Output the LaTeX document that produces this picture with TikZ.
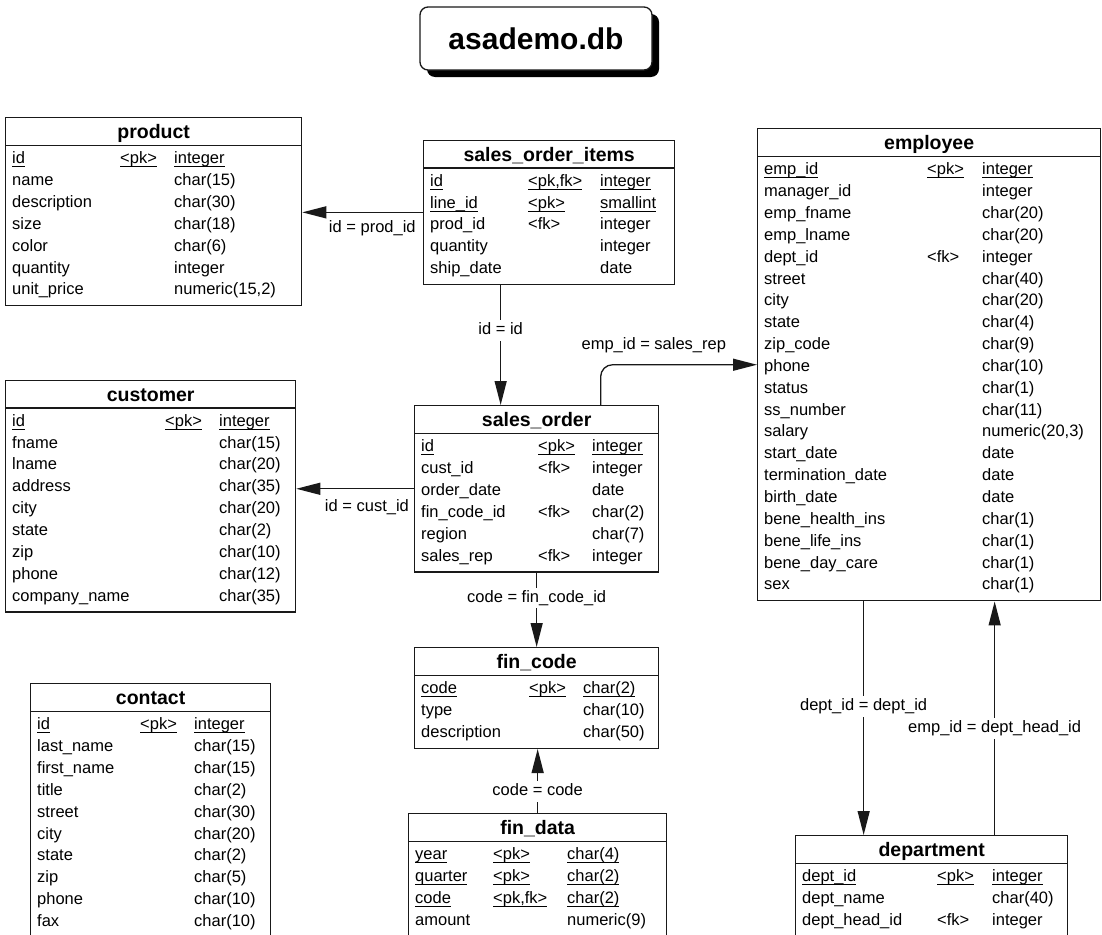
\documentclass[tikz,border=0pt]{standalone}
\usepackage{fontspec}
\setmainfont{Liberation Sans}
\usetikzlibrary{arrows.meta,positioning,shadows}
\tikzset{tbl/.style={draw=black!90,line width=1.3pt,fill=white,anchor=north west,inner sep=0pt},
  tblname/.style={font=\fontsize{19.5}{22}\selectfont\bfseries,inner sep=0pt,text height=14pt,text depth=4pt},
  fld/.style={font=\fontsize{16.5}{18}\selectfont,anchor=west,inner sep=0pt,text height=12pt,text depth=3.5pt},
  fk/.style={-{Triangle[length=24pt,width=12pt]},line width=1.3pt,draw=black!90},
  lbl/.style={font=\fontsize{16.5}{18}\selectfont,inner sep=2.5pt,text height=12pt,text depth=3.5pt}}
\newcommand{\ul}[1]{\underline{\smash{#1}\rule[-1.5pt]{0pt}{0pt}}}
% table: name, left, top, width, height, title, key column, type column, fields
\newcommand{\dbtable}[9]{%
  \node (#1) [tbl,minimum width=#4pt,minimum height=#5pt] at (#2,#3) {};
  \node (#1-name) [tblname] at ([yshift=-16.5pt]#1.north) {#6};
  \draw[line width=1.3pt,draw=black!90] ([yshift=-28.5pt]#1.north west) -- ([yshift=-28.5pt]#1.north east);
  \foreach \fname/\fkey/\ftype [count=\i from 0] in {#9} {
    \node (#1-\i-n) [fld] at ([xshift=7pt,yshift={-42.5pt-21.85pt*\i}]#1.north west) {\fname};
    \node (#1-\i-k) [fld] at ([xshift=#7pt,yshift={-42.5pt-21.85pt*\i}]#1.north west) {\fkey};
    \node (#1-\i-t) [fld] at ([xshift=#8pt,yshift={-42.5pt-21.85pt*\i}]#1.north west) {\ftype};
  }}
\begin{document}
\begin{tikzpicture}[x=1pt,y=-1pt]
\useasboundingbox (0,0) rectangle (1102,934);
\clip (0,0) rectangle (1102,934);
\node (dbname) [draw=black!90,line width=1.3pt,fill=white,rounded corners=8pt,minimum width=232pt,minimum height=63pt,
  font=\fontsize{30}{34}\selectfont\bfseries,drop shadow={shadow xshift=7pt,shadow yshift=-7pt,fill=black,opacity=1}]
  at (536,38.5) {asademo.db};
%
\dbtable{prod}{5}{117}{296}{188.1}{product}{115}{169}{
  \ul{id}/\ul{<pk>}/\ul{integer},
  name/{}/char(15),
  description/{}/char(30),
  size/{}/char(18),
  color/{}/char(6),
  quantity/{}/integer,
  unit\_price/{}/{numeric(15,2)}}
\dbtable{soi}{423}{139.5}{251}{144.4}{sales\_order\_items}{105}{177}{
  \ul{id}/\ul{<pk,fk>}/\ul{integer},
  \ul{line\_id}/\ul{<pk>}/\ul{smallint},
  prod\_id/<fk>/integer,
  quantity/{}/integer,
  ship\_date/{}/date}
\dbtable{emp}{757}{128}{343}{472.15}{employee}{170}{225}{
  \ul{emp\_id}/\ul{<pk>}/\ul{integer},
  manager\_id/{}/integer,
  emp\_fname/{}/char(20),
  emp\_lname/{}/char(20),
  dept\_id/<fk>/integer,
  street/{}/char(40),
  city/{}/char(20),
  state/{}/char(4),
  zip\_code/{}/char(9),
  phone/{}/char(10),
  status/{}/char(1),
  ss\_number/{}/char(11),
  salary/{}/{numeric(20,3)},
  start\_date/{}/date,
  termination\_date/{}/date,
  birth\_date/{}/date,
  bene\_health\_ins/{}/char(1),
  bene\_life\_ins/{}/char(1),
  bene\_day\_care/{}/char(1),
  sex/{}/char(1)}
\dbtable{cust}{5}{379.5}{290}{231.8}{customer}{160}{214}{
  \ul{id}/\ul{<pk>}/\ul{integer},
  fname/{}/char(15),
  lname/{}/char(20),
  address/{}/char(35),
  city/{}/char(20),
  state/{}/char(2),
  zip/{}/char(10),
  phone/{}/char(12),
  company\_name/{}/char(35)}
\dbtable{so}{414}{405}{244}{166.25}{sales\_order}{124}{178}{
  \ul{id}/\ul{<pk>}/\ul{integer},
  cust\_id/<fk>/integer,
  order\_date/{}/date,
  fin\_code\_id/<fk>/char(2),
  region/{}/char(7),
  sales\_rep/<fk>/integer}
\dbtable{fc}{414}{647}{244}{100.7}{fin\_code}{115}{169}{
  \ul{code}/\ul{<pk>}/\ul{char(2)},
  type/{}/char(10),
  description/{}/char(50)}
\dbtable{fd}{408}{813}{258}{122.55}{fin\_data}{85}{159}{
  \ul{year}/\ul{<pk>}/\ul{char(4)},
  \ul{quarter}/\ul{<pk>}/\ul{char(2)},
  \ul{code}/\ul{<pk,fk>}/\ul{char(2)},
  amount/{}/numeric(9)}
\dbtable{cont}{30}{683}{240}{253.65}{contact}{110}{164}{
  \ul{id}/\ul{<pk>}/\ul{integer},
  last\_name/{}/char(15),
  first\_name/{}/char(15),
  title/{}/char(2),
  street/{}/char(30),
  city/{}/char(20),
  state/{}/char(2),
  zip/{}/char(5),
  phone/{}/char(10),
  fax/{}/char(10)}
\dbtable{dept}{795}{835}{272}{100.7}{department}{142}{197}{
  \ul{dept\_id}/\ul{<pk>}/\ul{integer},
  dept\_name/{}/char(40),
  dept\_head\_id/<fk>/integer}
%
\draw[fk] (soi.west) -- node[lbl,below=5pt,pos=0.42] {id = prod\_id} (soi.west -| prod.east);
\draw[fk] ([xshift=-48.5pt]soi.south) -- node[lbl,fill=white,pos=0.38] {id = id} ([xshift=-48.5pt]soi.south |- so.north);
\draw[fk] (so.west) -- node[lbl,below=8pt,pos=0.40] {id = cust\_id} (so.west -| cust.east);
\draw[fk,rounded corners=12pt] ([xshift=64pt]so.north) |- node[lbl,pos=0.67,above=9pt] {emp\_id = sales\_rep} (emp.west);
\draw[fk] (so.south) -- node[lbl,fill=white,pos=0.34] {code = fin\_code\_id} (fc.north);
\draw[fk] (fd.north) -- node[lbl,fill=white,pos=0.34] {code = code} (fd.north |- fc.south);
\draw[fk] ([xshift=-65.5pt]emp.south) -- node[lbl,fill=white,pos=0.45] {dept\_id = dept\_id} ([xshift=-65.5pt]emp.south |- dept.north);
\draw[fk] ([xshift=63pt]dept.north) -- node[lbl,fill=white,pos=0.455] {emp\_id = dept\_head\_id} ([xshift=63pt]dept.north |- emp.south);
\end{tikzpicture}
\end{document}
